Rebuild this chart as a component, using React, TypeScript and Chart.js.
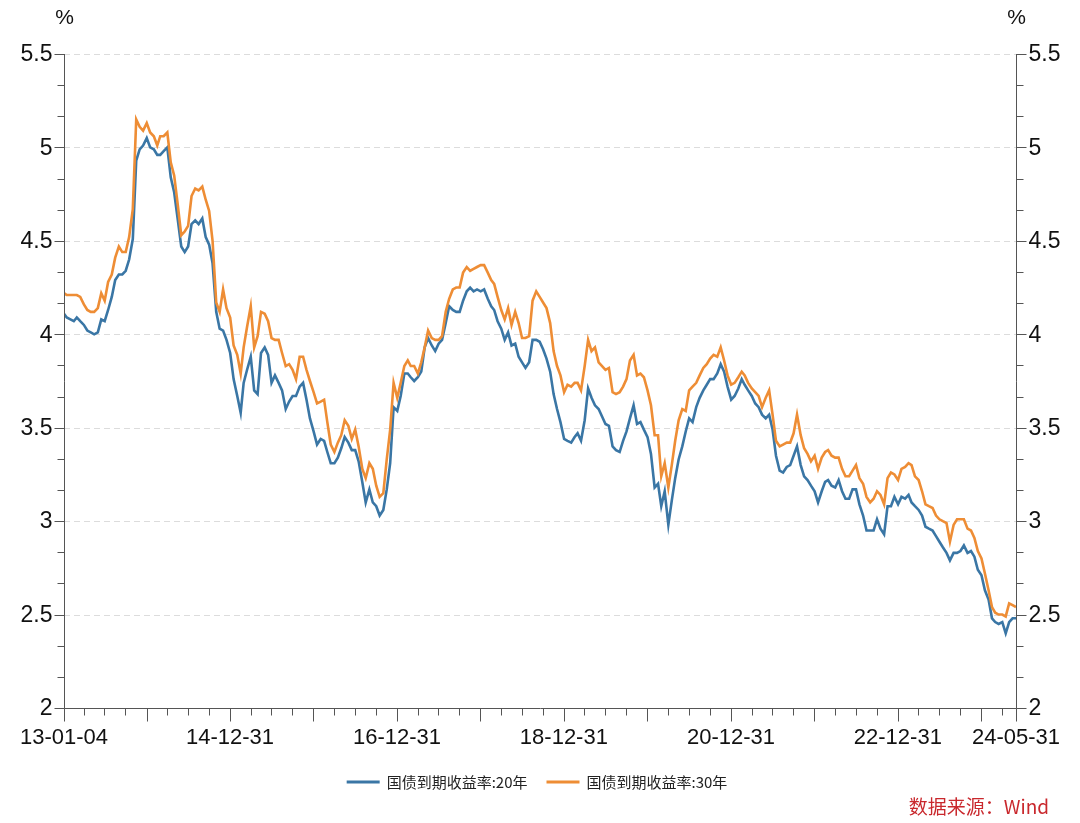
import React, { useEffect, useRef } from 'react';
import { Chart, registerables } from 'chart.js';

Chart.register(...registerables);

// ---- data (semi-monthly readings) ----
const START = '2013-01-04';
const END = '2024-05-31';

const dates: string[] = [];
for (let m = 0; m <= 136; m++) {
  const y = 2013 + Math.floor(m / 12);
  const mo = String((m % 12) + 1).padStart(2, '0');
  dates.push(m === 0 ? START : `${y}-${mo}-01`);
  dates.push(`${y}-${mo}-16`);
}
dates.push(END);

const yield20: number[] = [
  4.11, 4.09, 4.08, 4.07, 4.09, 4.07, 4.05, 4.02, 4.01, 4.00,
  4.01, 4.08, 4.07, 4.13, 4.20, 4.29, 4.32, 4.32, 4.34, 4.40,
  4.51, 4.93, 4.99, 5.01, 5.05, 5.00, 4.99, 4.96, 4.96, 4.98,
  5.00, 4.84, 4.76, 4.62, 4.47, 4.44, 4.47, 4.59, 4.61, 4.59,
  4.62, 4.52, 4.48, 4.38, 4.12, 4.03, 4.02, 3.97, 3.90, 3.76,
  3.67, 3.58, 3.74, 3.81, 3.88, 3.70, 3.68, 3.90, 3.93, 3.89,
  3.74, 3.78, 3.74, 3.70, 3.60, 3.64, 3.67, 3.67, 3.72, 3.74,
  3.65, 3.55, 3.48, 3.41, 3.44, 3.43, 3.37, 3.31, 3.31, 3.34,
  3.39, 3.45, 3.42, 3.38, 3.38, 3.32, 3.21, 3.10, 3.17, 3.10,
  3.08, 3.03, 3.06, 3.17, 3.31, 3.61, 3.59, 3.67, 3.79, 3.79,
  3.77, 3.75, 3.77, 3.80, 3.93, 3.98, 3.94, 3.91, 3.95, 3.97,
  4.06, 4.15, 4.13, 4.12, 4.12, 4.18, 4.23, 4.25, 4.23, 4.24,
  4.23, 4.24, 4.19, 4.15, 4.13, 4.07, 4.03, 3.97, 4.01, 3.94,
  3.95, 3.88, 3.85, 3.82, 3.85, 3.97, 3.97, 3.96, 3.92, 3.87,
  3.80, 3.68, 3.60, 3.53, 3.44, 3.43, 3.42, 3.45, 3.47, 3.43,
  3.54, 3.71, 3.66, 3.62, 3.60, 3.56, 3.52, 3.51, 3.40, 3.38,
  3.37, 3.43, 3.48, 3.55, 3.62, 3.52, 3.53, 3.49, 3.45, 3.36,
  3.18, 3.20, 3.08, 3.16, 2.98, 3.11, 3.23, 3.33, 3.40, 3.48,
  3.55, 3.53, 3.61, 3.66, 3.70, 3.73, 3.76, 3.76, 3.79, 3.84,
  3.80, 3.72, 3.65, 3.67, 3.71, 3.76, 3.73, 3.70, 3.67, 3.63,
  3.61, 3.57, 3.55, 3.57, 3.49, 3.35, 3.27, 3.26, 3.29, 3.30,
  3.35, 3.40, 3.30, 3.24, 3.22, 3.19, 3.16, 3.10, 3.16, 3.21,
  3.22, 3.19, 3.18, 3.22, 3.16, 3.12, 3.12, 3.17, 3.17, 3.09,
  3.03, 2.95, 2.95, 2.95, 3.01, 2.96, 2.93, 3.08, 3.08, 3.13,
  3.09, 3.13, 3.12, 3.14, 3.10, 3.08, 3.06, 3.03, 2.97, 2.96,
  2.95, 2.92, 2.89, 2.86, 2.83, 2.79, 2.83, 2.83, 2.84, 2.87,
  2.83, 2.84, 2.81, 2.74, 2.71, 2.63, 2.58, 2.48, 2.46, 2.45,
  2.46, 2.40, 2.46, 2.48, 2.48,
];

const yield30: number[] = [
  4.22, 4.21, 4.21, 4.21, 4.21, 4.20, 4.16, 4.13, 4.12, 4.12,
  4.14, 4.22, 4.18, 4.28, 4.32, 4.41, 4.47, 4.44, 4.44, 4.52,
  4.67, 5.15, 5.11, 5.09, 5.13, 5.08, 5.06, 5.01, 5.06, 5.06,
  5.08, 4.92, 4.85, 4.70, 4.53, 4.55, 4.58, 4.74, 4.78, 4.77,
  4.79, 4.72, 4.66, 4.50, 4.17, 4.12, 4.24, 4.14, 4.09, 3.94,
  3.89, 3.79, 3.93, 4.04, 4.15, 3.93, 3.99, 4.12, 4.11, 4.07,
  3.98, 3.97, 3.97, 3.90, 3.83, 3.84, 3.81, 3.76, 3.88, 3.88,
  3.81, 3.75, 3.69, 3.63, 3.64, 3.65, 3.53, 3.41, 3.37, 3.42,
  3.46, 3.54, 3.51, 3.44, 3.49, 3.40, 3.28, 3.23, 3.31, 3.28,
  3.19, 3.13, 3.15, 3.33, 3.49, 3.74, 3.66, 3.74, 3.83, 3.86,
  3.83, 3.83, 3.79, 3.85, 3.93, 4.02, 3.98, 3.97, 3.97, 3.99,
  4.12, 4.19, 4.24, 4.25, 4.25, 4.33, 4.36, 4.34, 4.35, 4.36,
  4.37, 4.37, 4.33, 4.29, 4.27, 4.20, 4.13, 4.08, 4.14, 4.05,
  4.12, 4.06, 3.98, 3.98, 3.99, 4.18, 4.23, 4.20, 4.17, 4.14,
  4.06, 3.91, 3.83, 3.78, 3.69, 3.73, 3.72, 3.74, 3.74, 3.70,
  3.83, 3.97, 3.91, 3.93, 3.85, 3.83, 3.81, 3.82, 3.69, 3.68,
  3.69, 3.72, 3.76, 3.86, 3.89, 3.78, 3.79, 3.77, 3.70, 3.62,
  3.46, 3.46, 3.24, 3.31, 3.18, 3.30, 3.43, 3.54, 3.60, 3.59,
  3.70, 3.72, 3.74, 3.78, 3.82, 3.84, 3.87, 3.89, 3.88, 3.93,
  3.86, 3.78, 3.73, 3.74, 3.77, 3.80, 3.78, 3.74, 3.71, 3.69,
  3.67, 3.61, 3.66, 3.70, 3.57, 3.43, 3.40, 3.41, 3.42, 3.42,
  3.47, 3.57, 3.46, 3.39, 3.36, 3.32, 3.35, 3.28, 3.34, 3.37,
  3.38, 3.35, 3.34, 3.34, 3.28, 3.24, 3.24, 3.27, 3.30, 3.23,
  3.20, 3.13, 3.10, 3.12, 3.16, 3.14, 3.09, 3.23, 3.26, 3.25,
  3.22, 3.28, 3.29, 3.31, 3.30, 3.24, 3.22, 3.16, 3.09, 3.08,
  3.07, 3.03, 3.01, 3.00, 2.99, 2.89, 2.98, 3.01, 3.01, 3.01,
  2.96, 2.95, 2.91, 2.84, 2.80, 2.72, 2.63, 2.54, 2.51, 2.50,
  2.50, 2.49, 2.56, 2.55, 2.54,
];

const seriesNames = ['国债到期收益率:20年', '国债到期收益率:30年'];
const seriesColors = ['#3a76a5', '#ee8d35'];

const xLabelDates = ['2013-01-04', '2014-12-31', '2016-12-31', '2018-12-31', '2020-12-31', '2022-12-31', '2024-05-31'];
const xLabels = ['13-01-04', '14-12-31', '16-12-31', '18-12-31', '20-12-31', '22-12-31', '24-05-31'];
const yMajorTicks = [2, 2.5, 3, 3.5, 4, 4.5, 5, 5.5];
const yMinorTicks = [2.1667, 2.3333, 2.6667, 2.8333, 3.1667, 3.3333, 3.6667, 3.8333, 4.1667, 4.3333, 4.6667, 4.8333, 5.1667, 5.3333];
const unitLabel = '%';
const sourceText = '数据来源：Wind';

// ---- helpers ----
const dayOf = (s: string) => {
  const [y, m, d] = s.split('-').map(Number);
  const [y0, m0, d0] = START.split('-').map(Number);
  return (Date.UTC(y, m - 1, d) - Date.UTC(y0, m0 - 1, d0)) / 86400000;
};

const majorXTickDates: string[] = [START];
for (let y = 2013; y <= 2023; y++) majorXTickDates.push(`${y}-12-31`);
majorXTickDates.push(END);
const minorXTickDates: string[] = [];
for (let y = 2013; y <= 2024; y++) {
  for (const md of ['03-31', '06-30', '09-30']) {
    const s = `${y}-${md}`;
    if (dayOf(s) < dayOf(END)) minorXTickDates.push(s);
  }
}

const NUM_FONT = '"Liberation Sans", Arial, Helvetica, sans-serif';
const CJK_FONT = '"Noto Sans CJK SC", "Noto Sans", sans-serif';
const AXIS_COLOR = '#555555';

const axesPlugin = {
  id: 'customAxes',
  beforeDatasetsDraw(chart: any) {
    const { ctx, chartArea, scales } = chart;
    const y = scales.y;
    ctx.save();
    ctx.strokeStyle = '#dcdcdc';
    ctx.lineWidth = 1;
    ctx.setLineDash([6, 4]);
    for (const v of yMajorTicks) {
      if (v === 2) continue;
      const py = Math.round(y.getPixelForValue(v)) + 0.5;
      ctx.beginPath();
      ctx.moveTo(chartArea.left, py);
      ctx.lineTo(chartArea.right, py);
      ctx.stroke();
    }
    ctx.restore();
  },
  afterDatasetsDraw(chart: any) {
    const { ctx, chartArea, scales } = chart;
    const x = scales.x;
    const y = scales.y;
    const L = Math.round(chartArea.left) + 0.5;
    const R = Math.round(chartArea.right) + 0.5;
    const B = Math.round(chartArea.bottom) + 0.5;
    const T = chartArea.top;
    ctx.save();
    ctx.strokeStyle = AXIS_COLOR;
    ctx.lineWidth = 1;
    ctx.setLineDash([]);
    // axis lines
    ctx.beginPath();
    ctx.moveTo(L, T); ctx.lineTo(L, B);
    ctx.moveTo(R, T); ctx.lineTo(R, B);
    ctx.moveTo(L, B); ctx.lineTo(R, B);
    ctx.stroke();
    // y ticks
    ctx.beginPath();
    for (const v of yMajorTicks) {
      const py = Math.round(y.getPixelForValue(v)) + 0.5;
      ctx.moveTo(L - 10, py); ctx.lineTo(L, py);
      ctx.moveTo(R, py); ctx.lineTo(R + 10, py);
    }
    for (const v of yMinorTicks) {
      const py = Math.round(y.getPixelForValue(v)) + 0.5;
      ctx.moveTo(L - 7, py); ctx.lineTo(L, py);
      ctx.moveTo(R, py); ctx.lineTo(R + 7, py);
    }
    // x ticks
    for (const d of majorXTickDates) {
      const px = Math.round(x.getPixelForValue(dayOf(d))) + 0.5;
      ctx.moveTo(px, B); ctx.lineTo(px, B + 13);
    }
    for (const d of minorXTickDates) {
      const px = Math.round(x.getPixelForValue(dayOf(d))) + 0.5;
      ctx.moveTo(px, B); ctx.lineTo(px, B + 7);
    }
    ctx.stroke();

    // y labels
    ctx.fillStyle = '#111111';
    ctx.font = `23px ${NUM_FONT}`;
    ctx.textBaseline = 'middle';
    for (const v of yMajorTicks) {
      const py = y.getPixelForValue(v);
      ctx.textAlign = 'right';
      ctx.fillText(String(v), L - 12, py + 1);
      ctx.textAlign = 'left';
      ctx.fillText(String(v), R + 12, py + 1);
    }
    // x labels
    ctx.font = `22px ${NUM_FONT}`;
    ctx.textAlign = 'center';
    ctx.textBaseline = 'middle';
    xLabelDates.forEach((d, i) => {
      const px = x.getPixelForValue(dayOf(d));
      ctx.fillText(xLabels[i], px, B + 29);
    });
    // unit labels
    ctx.font = `21px ${NUM_FONT}`;
    ctx.fillText(unitLabel, L, 18);
    ctx.fillText(unitLabel, R, 18);

    // legend
    ctx.font = `15px ${CJK_FONT}`;
    const lineLen = 33, gapText = 7, gapItems = 19;
    const widths = seriesNames.map((n) => ctx.measureText(n).width);
    const total = widths.reduce((a, w) => a + lineLen + gapText + w, 0) + gapItems;
    let lx = 537 - total / 2;
    const ly = 782;
    ctx.textAlign = 'left';
    ctx.textBaseline = 'middle';
    seriesNames.forEach((n, i) => {
      ctx.strokeStyle = seriesColors[i];
      ctx.lineWidth = 3;
      ctx.beginPath();
      ctx.moveTo(lx, ly); ctx.lineTo(lx + lineLen, ly);
      ctx.stroke();
      ctx.fillStyle = '#222222';
      ctx.fillText(n, lx + lineLen + gapText, ly);
      lx += lineLen + gapText + widths[i] + gapItems;
    });

    // source
    ctx.font = `19px ${CJK_FONT}`;
    ctx.fillStyle = '#c9282d';
    ctx.textAlign = 'right';
    ctx.fillText(sourceText, 1049, 807);
    ctx.restore();
  },
};

export default function App() {
  const canvasRef = useRef<HTMLCanvasElement | null>(null);

  useEffect(() => {
    if (!canvasRef.current) return;
    const mk = (vals: number[]) => dates.map((d, i) => ({ x: dayOf(d), y: vals[i] }));
    const chart = new Chart(canvasRef.current, {
      type: 'line',
      data: {
        datasets: [
          {
            label: seriesNames[0],
            data: mk(yield20),
            borderColor: seriesColors[0],
            backgroundColor: seriesColors[0],
            borderWidth: 2.6,
            pointRadius: 0,
            tension: 0,
            fill: false,
            order: 1,
          },
          {
            label: seriesNames[1],
            data: mk(yield30),
            borderColor: seriesColors[1],
            backgroundColor: seriesColors[1],
            borderWidth: 2.6,
            pointRadius: 0,
            tension: 0,
            fill: false,
            order: 0,
          },
        ],
      },
      options: {
        responsive: false,
        animation: false,
        events: [],
        layout: { padding: { left: 64, right: 64, top: 54, bottom: 115 } },
        plugins: { legend: { display: false }, tooltip: { enabled: false } },
        scales: {
          x: { type: 'linear', min: 0, max: dayOf(END), display: false },
          y: { type: 'linear', min: 2, max: 5.5, display: false },
        },
      },
      plugins: [axesPlugin],
    } as any);
    return () => chart.destroy();
  }, []);

  return (
    <div style={{ position: 'absolute', left: 0, top: 0, width: 1080, height: 823, background: '#ffffff' }}>
      <canvas ref={canvasRef} width={1080} height={823} style={{ display: 'block' }} />
    </div>
  );
}
